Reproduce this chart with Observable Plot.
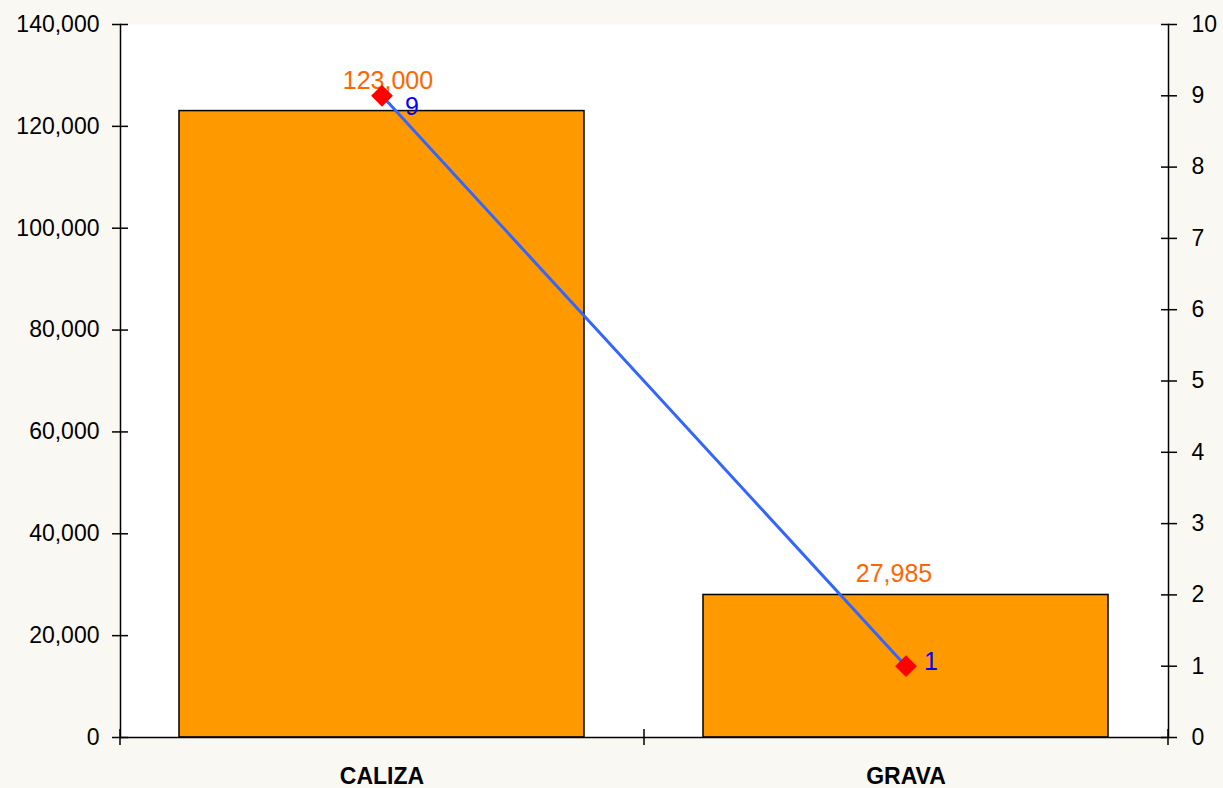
<!DOCTYPE html>
<html>
<head>
<meta charset="utf-8">
<script src="https://cdn.jsdelivr.net/npm/d3@7"></script>
<script src="https://cdn.jsdelivr.net/npm/@observablehq/plot@0.6"></script>
<style>
  html, body { margin: 0; padding: 0; background: #faf8f3; }
  #chart { width: 1223px; height: 788px; overflow: hidden; }
</style>
</head>
<body>
<div id="chart"></div>
<script>
const categories = ["CALIZA", "GRAVA"];
const tonnage = [123000, 27985];
const counts = [9, 1];
const leftTicks = [0, 20000, 40000, 60000, 80000, 100000, 120000, 140000];
const rightTicks = [0, 1, 2, 3, 4, 5, 6, 7, 8, 9, 10];
const leftMax = 140000;
const rightMax = 10;

const ratio = leftMax / rightMax;
const rows = categories.map((c, i) => ({cat: c, ton: tonnage[i], n: counts[i], n2: counts[i] * ratio}));
const rightTickPos = rightTicks.map(v => v * ratio);

const W = 1223, H = 788;
const mL = 120, mR = 55, mT = 24, mB = 51;
const halfStep = (W - mL - mR) / categories.length / 2;
const fmt = d3.format(",");
const font = "'Liberation Sans', Arial, sans-serif";
const blank = () => "";

const chart = Plot.plot({
  width: W,
  height: H,
  marginLeft: mL,
  marginRight: mR,
  marginTop: mT,
  marginBottom: mB,
  style: {fontFamily: font, fontSize: "23px", background: "transparent", color: "#000"},
  x: {domain: categories, paddingInner: 0.227, paddingOuter: 0.1135, axis: null, label: null},
  y: {domain: [0, leftMax], axis: null, label: null},
  marks: [
    Plot.frame({fill: "white", stroke: null}),
    Plot.barY(rows, {x: "cat", y: "ton", fill: "#FF9900", stroke: "#000", strokeWidth: 1.5}),
    Plot.frame({anchor: "left", stroke: "#000", strokeWidth: 1.5}),
    Plot.frame({anchor: "right", stroke: "#000", strokeWidth: 1.5}),
    Plot.ruleY([0], {stroke: "#000", strokeWidth: 1.5}),
    // left axis
    Plot.axisY(leftTicks, {anchor: "left", label: null, tickSize: 8, tickPadding: 13, tickFormat: fmt, fontSize: 23, fill: "#000", strokeWidth: 1.5}),
    Plot.axisY(leftTicks, {anchor: "left", label: null, tickSize: 8, dx: 8, tickFormat: blank, strokeWidth: 1.5}),
    // right axis
    Plot.axisY(rightTickPos, {anchor: "right", label: null, tickSize: 8, tickPadding: 15, tickFormat: d => String(Math.round(d / ratio)), fontSize: 23, fill: "#000", strokeWidth: 1.5}),
    Plot.axisY(rightTickPos, {anchor: "right", label: null, tickSize: 8, dx: -8, tickFormat: blank, strokeWidth: 1.5}),
    // bottom axis
    Plot.axisX(categories, {anchor: "bottom", label: null, tickSize: 16, dx: halfStep, dy: -8, tickFormat: blank, strokeWidth: 1.5}),
    Plot.axisX(categories.slice(0, 1), {anchor: "bottom", label: null, tickSize: 16, dx: -halfStep, dy: -8, tickFormat: blank, strokeWidth: 1.5}),
    Plot.axisX(categories, {anchor: "bottom", label: null, tickSize: 0, tickPadding: 30, fontWeight: "bold", fontSize: 23, fill: "#000"}),
    // bar value labels
    Plot.text(rows.slice(0, 1), {x: "cat", y: "ton", text: d => fmt(d.ton), dy: -30, dx: 6, fill: "#FF6600", fontSize: 25}),
    Plot.text(rows.slice(1), {x: "cat", y: "ton", text: d => fmt(d.ton), dy: -21, dx: -12, fill: "#FF6600", fontSize: 25}),
    // line series
    Plot.line(rows, {x: "cat", y: "n2", stroke: "#3366FF", strokeWidth: 3}),
    Plot.dot(rows, {x: "cat", y: "n2", symbol: "diamond2", r: 9.8, fill: "#FF0000", stroke: null}),
    Plot.text(rows.slice(0, 1), {x: "cat", y: "n2", text: d => String(d.n), dx: 30, dy: 11, fill: "#0000FF", fontSize: 25}),
    Plot.text(rows.slice(1), {x: "cat", y: "n2", text: d => String(d.n), dx: 25, dy: -4, fill: "#0000FF", fontSize: 25})
  ]
});
document.getElementById("chart").appendChild(chart);
</script>
</body>
</html>
